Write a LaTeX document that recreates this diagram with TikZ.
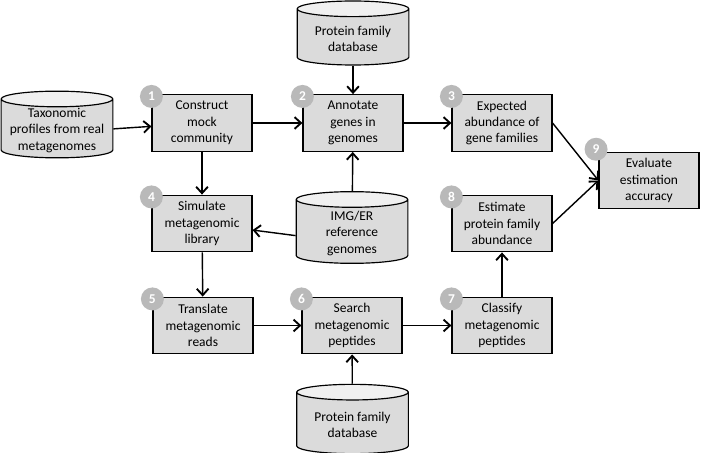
\documentclass[tikz,border=0pt]{standalone}
\usepackage{fontspec}
\setmainfont{Carlito}
\usetikzlibrary{shapes.geometric,arrows.meta}

\begin{document}
\begin{tikzpicture}[x=0.03cm,y=-0.03cm,
    every node/.style={font=\fontsize{11.5}{14}\selectfont, align=center},
    stepbox/.style={draw, line width=1pt, fill=gray!28, minimum width=3cm, minimum height=1.7cm, inner sep=1pt},
    store/.style={cylinder, shape border rotate=90, draw, line width=1pt, aspect=0.14,
      cylinder uses custom fill, cylinder body fill=gray!28, cylinder end fill=gray!12,
      minimum width=3.35cm, minimum height=2cm, inner xsep=1.675cm, inner ysep=0pt,
      anchor=shape center},
    storetext/.style={yshift=-0.17cm},
    badge/.style={circle, fill=gray!55, text=white, inner sep=0pt, minimum size=0.69cm,
      font=\fontsize{11.5}{13}\selectfont\bfseries},
    flow/.style={line width=1.2pt, -{Straight Barb[length=5.5pt,width=10pt,line width=1.6pt]}}]
  %
  \useasboundingbox (0,0) rectangle (702,453);
  %
  \node[store] (taxa) at (57,124.5) {};
  \node[store, minimum height=1.92cm] (pfamtop) at (353,33) {};
  \node[store, minimum height=2.15cm] (imger) at (352,227.5) {};
  \node[store, minimum height=2.08cm] (pfambot) at (352.5,419) {};
  \node[storetext] (taxa-t) at (taxa.shape center) {Taxonomic\\profiles from real\\metagenomes};
  \node[storetext] (pfamtop-t) at (pfamtop.shape center) {Protein family\\database};
  \node[storetext] (imger-t) at (imger.shape center) {IMG/ER\\reference\\genomes};
  \node[storetext] (pfambot-t) at (pfambot.shape center) {Protein family\\database};
  %
  \node[stepbox] (mock) at (202,123) {Construct\\mock\\community};
  \node[stepbox] (annot) at (353,123) {Annotate\\genes in\\genomes};
  \node[stepbox] (expect) at (502,123) {Expected\\abundance of\\gene families};
  \node[stepbox] (simlib) at (202,223.5) {Simulate\\metagenomic\\library};
  \node[stepbox] (estim) at (502,223.5) {Estimate\\protein family\\abundance};
  \node[stepbox] (transl) at (203,325.5) {Translate\\metagenomic\\reads};
  \node[stepbox] (search) at (352,325.5) {Search\\metagenomic\\peptides};
  \node[stepbox] (classif) at (502,325.5) {Classify\\metagenomic\\peptides};
  \node[stepbox] (evalacc) at (649,180.5) {Evaluate\\estimation\\accuracy};
  %
  \node[badge] (b1) at ([yshift=-2pt]mock.north west) {1};
  \node[badge] (b2) at ([yshift=-2pt]annot.north west) {2};
  \node[badge] (b3) at ([yshift=-2pt]expect.north west) {3};
  \node[badge] (b4) at ([yshift=-2pt]simlib.north west) {4};
  \node[badge] (b5) at ([yshift=-2pt]transl.north west) {5};
  \node[badge] (b6) at ([yshift=-2pt]search.north west) {6};
  \node[badge] (b7) at ([yshift=-2pt]classif.north west) {7};
  \node[badge] (b8) at ([yshift=-2pt]estim.north west) {8};
  \node[badge] (b9) at ([xshift=-2pt,yshift=2pt]evalacc.north west) {9};
  %
  \draw[flow] (taxa) -- (mock);
  \draw[flow] (mock) -- (annot);
  \draw[flow] (annot) -- (expect);
  \draw[flow] (pfamtop) -- (annot);
  \draw[flow] (mock) -- (simlib);
  \draw[flow] (imger.west) -- (simlib);
  \draw[flow] (imger) -- (annot);
  \draw[flow] (simlib) -- (transl);
  \draw[flow] (transl) -- (search);
  \draw[flow] (search) -- (classif);
  \draw[flow] (pfambot) -- (search);
  \draw[flow] (classif) -- (estim);
  \draw[flow] (expect.east) -- (evalacc.west);
  \draw[flow] (estim.east) -- (evalacc.west);
  %
\end{tikzpicture}
\end{document}
